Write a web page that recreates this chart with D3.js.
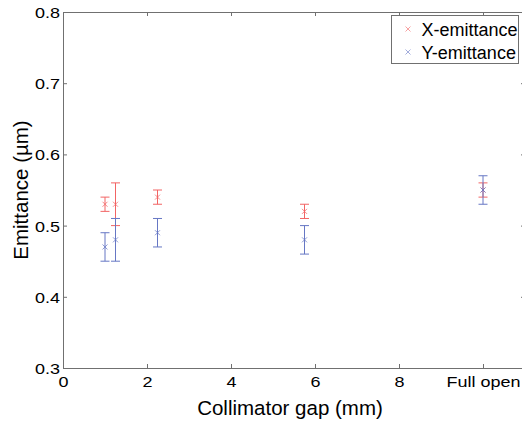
<!DOCTYPE html>
<html>
<head>
<meta charset="utf-8">
<script src="https://cdn.jsdelivr.net/npm/d3@7"></script>
<style>
  body { margin: 0; background: #fff; }
  svg { display: block; font-family: "Liberation Sans", Arial, sans-serif; }
</style>
</head>
<body>
<div id="chart"></div>
<script>
// collimator gap (mm); "Full open" is placed at 10
const gaps = [1.0, 1.25, 2.25, 5.75, 10];
const xEmit = [0.53, 0.53, 0.54, 0.52, 0.55];
const xErr = [0.01, 0.03, 0.01, 0.01, 0.01];
const yEmit = [0.47, 0.48, 0.49, 0.48, 0.55];
const yErr = [0.02, 0.03, 0.02, 0.02, 0.02];
const xTicks = [0, 2, 4, 6, 8, 10];
const xTickLabels = ["0", "2", "4", "6", "8", "Full open"];
const yTicks = [0.3, 0.4, 0.5, 0.6, 0.7, 0.8];

const width = 522, height = 424;
const margin = {top: 12, left: 63, bottom: 56, right: -3};
const stretch = 1.2; // tick text in the picture is a bit wide

const svg = d3.select("#chart").append("svg")
    .attr("width", width)
    .attr("height", height);

const x = d3.scaleLinear()
    .domain([0, 11])
    .range([margin.left, width - margin.right]);

const y = d3.scaleLinear()
    .domain([0.3, 0.8])
    .range([height - margin.bottom, margin.top]);

const axisColor = "#707070";

// bottom axis
svg.append("g")
    .attr("transform", `translate(0,${y(0.3)})`)
    .call(d3.axisBottom(x).tickValues(xTicks)
      .tickFormat((d, i) => xTickLabels[i])
      .tickSizeInner(-4).tickSizeOuter(0))
    .call(g => g.select(".domain").attr("stroke", axisColor))
    .call(g => g.selectAll(".tick line").attr("stroke", axisColor))
    .call(g => g.selectAll(".tick text")
      .attr("y", 19).attr("dy", null)
      .attr("fill", "#000")
      .attr("font-size", 15)
      .attr("font-family", "Liberation Sans, Arial, sans-serif")
      .attr("transform", `scale(${stretch},1)`));

// top axis (ticks only)
svg.append("g")
    .attr("transform", `translate(0,${y(0.8)})`)
    .call(d3.axisTop(x).tickValues(xTicks).tickFormat("")
      .tickSizeInner(-4).tickSizeOuter(0))
    .call(g => g.select(".domain").attr("stroke", axisColor))
    .call(g => g.selectAll(".tick line").attr("stroke", axisColor));

// left axis
svg.append("g")
    .attr("transform", `translate(${x(0)},0)`)
    .call(d3.axisLeft(y).tickValues(yTicks).tickFormat(d3.format(".1f"))
      .tickSizeInner(-4).tickSizeOuter(0))
    .call(g => g.select(".domain").attr("stroke", axisColor))
    .call(g => g.selectAll(".tick line").attr("stroke", axisColor))
    .call(g => g.selectAll(".tick text")
      .attr("x", -3 / stretch)
      .attr("dy", "0.36em")
      .attr("fill", "#000")
      .attr("font-size", 15)
      .attr("font-family", "Liberation Sans, Arial, sans-serif")
      .attr("transform", `scale(${stretch},1)`));

// right axis (ticks only)
svg.append("g")
    .attr("transform", `translate(${x(11)},0)`)
    .call(d3.axisRight(y).tickValues(yTicks).tickFormat("")
      .tickSizeInner(-4).tickSizeOuter(0))
    .call(g => g.select(".domain").attr("stroke", axisColor))
    .call(g => g.selectAll(".tick line").attr("stroke", axisColor));

// axis labels
svg.append("text")
    .attr("x", 290).attr("y", 415)
    .attr("text-anchor", "middle")
    .attr("font-size", 20.5)
    .text("Collimator gap (mm)");

svg.append("text")
    .attr("transform", `translate(28,${(y(0.3) + y(0.8)) / 2}) rotate(-90)`)
    .attr("text-anchor", "middle")
    .attr("font-size", 20.5)
    .text("Emittance (\u00b5m)");

// series
const series = [
  {name: "X-emittance", vals: xEmit, err: xErr, color: "#f26464"},
  {name: "Y-emittance", vals: yEmit, err: yErr, color: "#6677c4"}
];

const cap = 4.5, mk = 2.5;

series.forEach(s => {
  const g = svg.append("g")
      .attr("stroke", s.color)
      .attr("fill", "none");
  const pts = gaps.map((gp, i) => ({gp, v: s.vals[i], e: s.err[i]}));
  g.selectAll("line.bar").data(pts).join("line")
      .attr("x1", d => x(d.gp)).attr("x2", d => x(d.gp))
      .attr("y1", d => y(d.v - d.e)).attr("y2", d => y(d.v + d.e));
  g.selectAll("line.top").data(pts).join("line")
      .attr("x1", d => x(d.gp) - cap).attr("x2", d => x(d.gp) + cap)
      .attr("y1", d => y(d.v + d.e)).attr("y2", d => y(d.v + d.e));
  g.selectAll("line.bot").data(pts).join("line")
      .attr("x1", d => x(d.gp) - cap).attr("x2", d => x(d.gp) + cap)
      .attr("y1", d => y(d.v - d.e)).attr("y2", d => y(d.v - d.e));
  g.selectAll("path.mk").data(pts).join("path")
      .attr("stroke-opacity", 0.75)
      .attr("d", d => {
        const cx = x(d.gp), cy = y(d.v);
        return `M${cx - mk},${cy - mk}L${cx + mk},${cy + mk}M${cx - mk},${cy + mk}L${cx + mk},${cy - mk}`;
      });
});

// legend
const legend = svg.append("g");
legend.append("rect")
    .attr("x", 391.5).attr("y", 15.5)
    .attr("width", 127).attr("height", 48)
    .attr("fill", "#fff")
    .attr("stroke", axisColor);

legend.selectAll("g.item").data(series).join("g")
    .attr("transform", (d, i) => `translate(0,${29 + i * 23})`)
    .each(function(d) {
      const it = d3.select(this);
      it.append("path")
          .attr("stroke", d.color).attr("stroke-opacity", 0.6).attr("fill", "none")
          .attr("d", `M${408 - mk},${-mk}L${408 + mk},${mk}M${408 - mk},${mk}L${408 + mk},${-mk}`);
      it.append("text")
          .attr("x", 421.5).attr("y", 7)
          .attr("font-size", 18)
          .text(d.name);
    });
</script>
</body>
</html>
